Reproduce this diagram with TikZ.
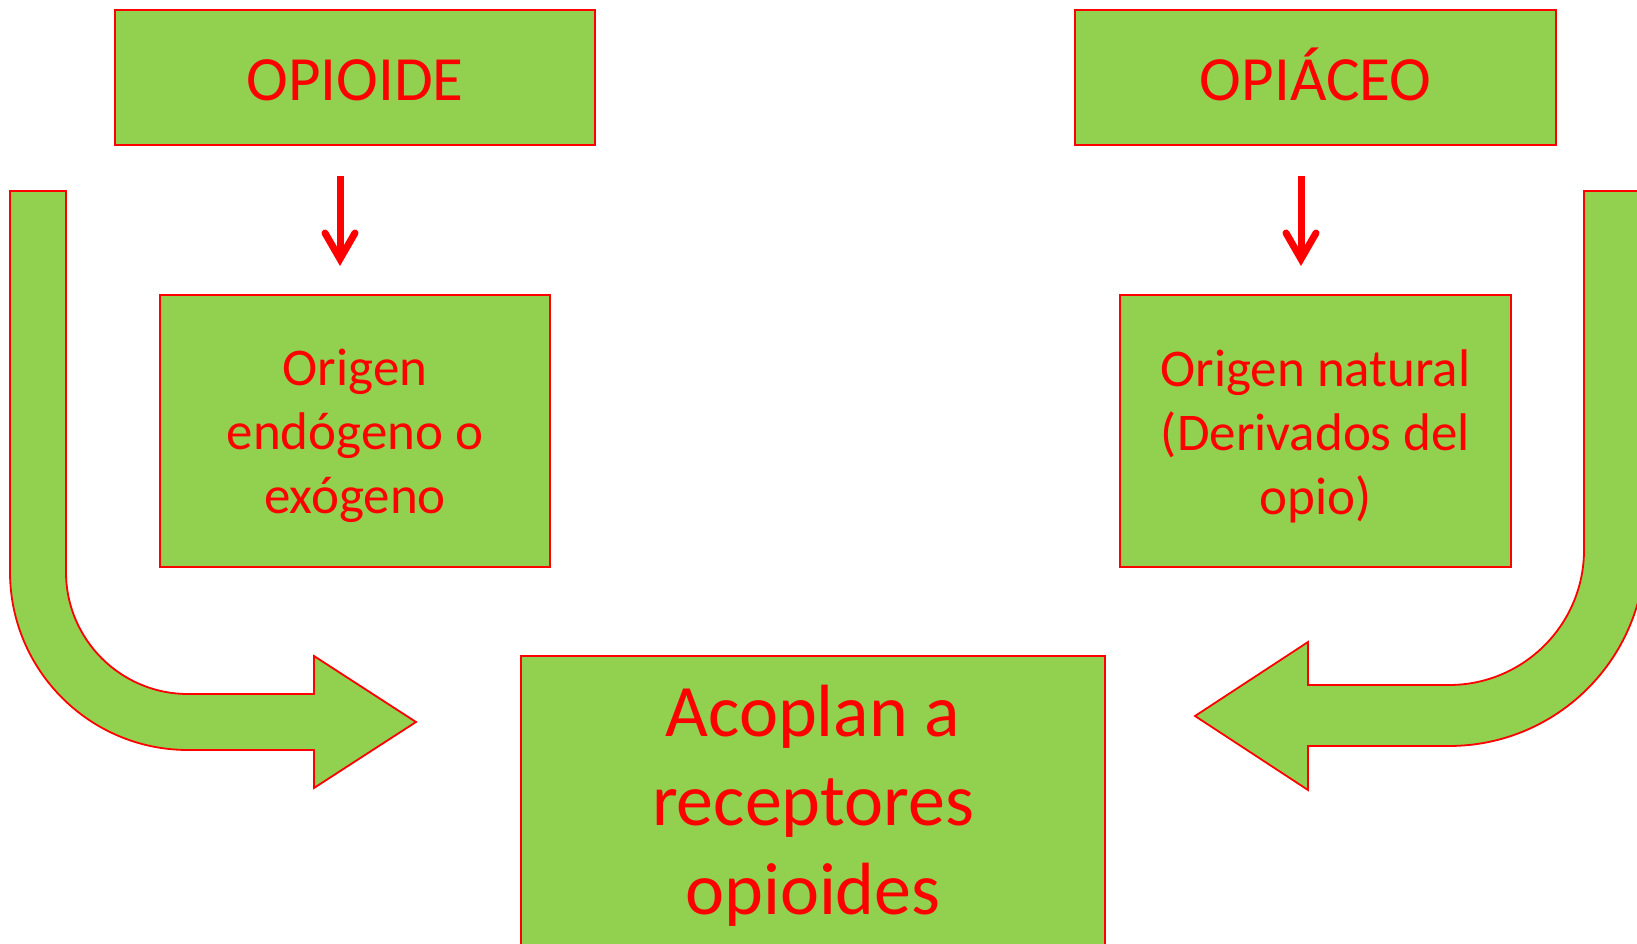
\documentclass[tikz,border=0pt]{standalone}
\usepackage{fontspec}
\setmainfont{Carlito}
\usetikzlibrary{calc}
\definecolor{boxgreen}{HTML}{92D050}
\definecolor{boxred}{HTML}{FF0000}
\begin{document}
\begin{tikzpicture}[x=1pt,y=1pt,
  box/.style={draw=boxred, line width=2pt, fill=boxgreen, inner sep=0pt},
  txt/.style={text=boxred, inner sep=0pt, align=center},
  titlefont/.style={font=\fontsize{63}{75}\selectfont, text height=40pt, text depth=0pt},
  midfont/.style={font=\fontsize{53}{64}\selectfont},
  bigfont/.style={font=\fontsize{74}{89}\selectfont},
  bent/.style={draw=boxred, line width=1.8pt, fill=boxgreen, line join=miter},
  shaft/.style={draw=boxred, line width=7pt},
  barb/.style={draw=boxred, line width=7pt, line cap=round, line join=miter}]
\useasboundingbox (0,0) rectangle (1637,943);

% top boxes
\node[box, minimum width=480, minimum height=135] (opioide) at (355,865.5) {};
\node[txt, titlefont] (opioidet) at ($(opioide)+(0,-3)$) {OPIOIDE};
\node[box, minimum width=481, minimum height=135] (opiaceo) at (1315.5,865.5) {};
\node[txt, titlefont] (opiaceot) at ($(opiaceo)+(0,-3)$) {OPIÁCEO};

% middle boxes
\node[box, minimum width=390, minimum height=272] (origen1) at (355,512) {};
\node[txt, midfont] (origen1t) at ($(origen1)+(0,-5)$) {Origen\\endógeno o\\exógeno};
\node[box, minimum width=391, minimum height=272] (origen2) at (1315.5,512) {};
\node[txt, midfont] (origen2t) at ($(origen2)+(0,-5)$) {Origen natural\\(Derivados del\\opio)};

% bottom box
\node[box, minimum width=584, minimum height=294] (acoplan) at (813,140) {};
\node[txt, bigfont] (acoplant) at ($(acoplan)+(0,-3)$) {Acoplan a\\receptores\\opioides};

% small down arrows
\coordinate (l1s) at (340,767);
\coordinate (l1e) at (340,684);
\coordinate (r1s) at (1301,767);
\coordinate (r1e) at (1301,684);
\draw[shaft] (l1s) -- (l1e);
\draw[barb] ($(l1e)+(-15,26)$) -- (l1e) -- ($(l1e)+(15,26)$);
\draw[shaft] (r1s) -- (r1e);
\draw[barb] ($(r1e)+(-15,26)$) -- (r1e) -- ($(r1e)+(15,26)$);

% left bent arrow
\draw[bent] (10,752) -- (66,752) -- (66,371)
  arc[start angle=180, end angle=270, radius=122]
  -- (314,249) -- (314,287) -- (416,221) -- (314,155) -- (314,193)
  -- (188,193) arc[start angle=270, end angle=180, radius=178] -- cycle;

% right bent arrow
\draw[bent] (1584,752) -- (1584,393)
  arc[start angle=0, end angle=-90, radius=135]
  -- (1308,258) -- (1308,301) -- (1195,227) -- (1308,153) -- (1308,197)
  -- (1449,197) arc[start angle=-90, end angle=0, radius=196] -- (1645,752) -- cycle;
\end{tikzpicture}
\end{document}
